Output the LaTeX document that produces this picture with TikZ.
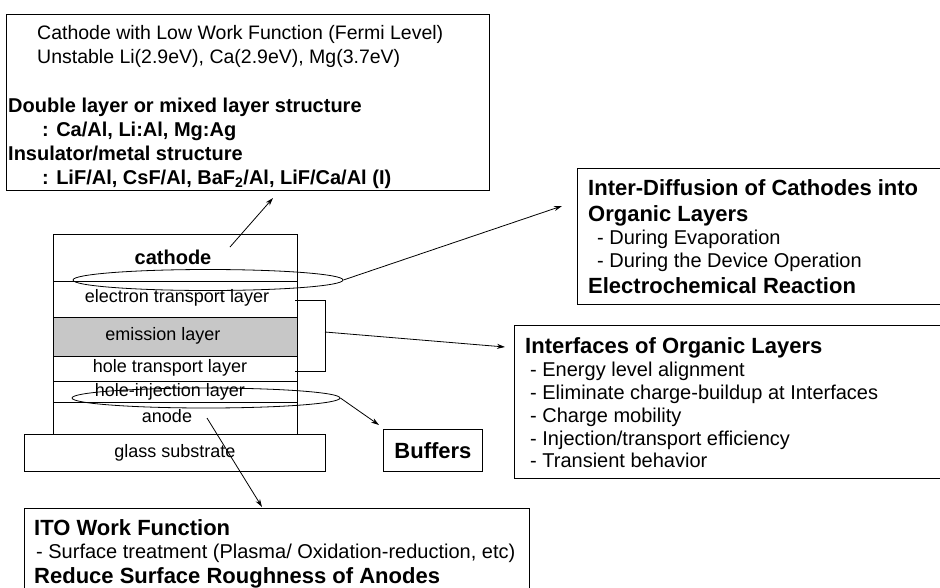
\documentclass[tikz,border=0pt]{standalone}
\usepackage{fontspec}
\setmainfont{Liberation Sans}
\usetikzlibrary{arrows.meta,shapes.geometric}
\tikzset{
  box/.style={draw, line width=0.9pt, inner sep=0pt},
  ring/.style={draw, ellipse, line width=0.8pt, inner sep=0pt},
  note/.style={anchor=base west, inner sep=0pt, font=\fontsize{19.5}{22}\selectfont},
  bnote/.style={note, font=\fontsize{20}{22}\selectfont\bfseries},
  head/.style={anchor=base west, inner sep=0pt, font=\fontsize{22}{24}\selectfont\bfseries},
  item/.style={anchor=base west, inner sep=0pt, font=\fontsize{20}{22}\selectfont},
  lbl/.style={inner sep=0pt, font=\fontsize{18}{20}\selectfont},
  pointer/.style={-{Stealth[length=8pt,width=5pt]}, line width=0.8pt},
}
\begin{document}
\begin{tikzpicture}[x=1pt,y=-1pt]
    \useasboundingbox (0,0) rectangle (940,587);
    \node[box, anchor=north west, minimum width=483, minimum height=176] (cathbox) at (6,14) {};
    \node[note] (c1) at (37,39) {Cathode with Low Work Function (Fermi Level)};
    \node[note] (c2) at (37,63) {Unstable Li(2.9eV), Ca(2.9eV), Mg(3.7eV)};
    \node[bnote] (c3) at (8,112) {Double layer or mixed layer structure};
    \node[bnote] (c4) at (42,136) {: Ca/Al, Li:Al, Mg:Ag};
    \node[bnote] (c5) at (8,160) {Insulator/metal structure};
    \node[bnote] (c6) at (42,184) {: LiF/Al, CsF/Al, BaF\textsubscript{2}/Al, LiF/Ca/Al (I)};

    \fill[black!22] (53,317) rectangle (297,356);
    \draw[line width=0.8pt] (53,234) rectangle (297,434);
    \draw[line width=0.8pt] (53,281) -- (297,281);
    \draw[line width=0.8pt] (53,317) -- (297,317);
    \draw[line width=0.8pt] (53,356) -- (297,356);
    \draw[line width=0.8pt] (53,381) -- (297,381);
    \draw[line width=0.8pt] (53,402) -- (297,402);
    \node[box, anchor=north west, minimum width=301, minimum height=37] (glass) at (24,434) {};
    \node[lbl, font=\fontsize{20}{22}\selectfont\bfseries] (cath) at (173,257) {cathode};
    \node[lbl] (etl) at (177,298) {electron transport layer};
    \node[lbl] (eml) at (163,336) {emission layer};
    \node[lbl] (htl) at (170,368) {hole transport layer};
    \node[lbl] (hil) at (170,392) {hole-injection layer};
    \node[lbl] (anode) at (167,416) {anode};
    \node[lbl] at (glass.center) {glass substrate};

    \node[ring, minimum width=270, minimum height=21] (topring) at (208,280) {};
    \node[ring, minimum width=268, minimum height=20] (botring) at (206,398) {};

    \node[box, anchor=north west, minimum width=370, minimum height=136] (difbox) at (577,168) {};
    \node[head] (d1) at (588,195) {Inter-Diffusion of Cathodes into};
    \node[head] (d2) at (588,221) {Organic Layers};
    \node[item] (d3) at (597,244) {- During Evaporation};
    \node[item] (d4) at (597,267) {- During the Device Operation};
    \node[head] (d5) at (588,293) {Electrochemical Reaction};

    \node[box, anchor=north west, minimum width=433, minimum height=153] (ifbox) at (514,325) {};
    \node[head] (i1) at (525,353) {Interfaces of Organic Layers};
    \node[item] (i2) at (530,376) {- Energy level alignment};
    \node[item] (i3) at (530,399) {- Eliminate charge-buildup at Interfaces};
    \node[item] (i4) at (530,422) {- Charge mobility};
    \node[item] (i5) at (530,445) {- Injection/transport efficiency};
    \node[item] (i6) at (530,467) {- Transient behavior};

    \node[box, anchor=north west, minimum width=99, minimum height=42, font=\fontsize{22}{24}\selectfont\bfseries] (buf) at (383,429) {Buffers};

    \node[box, anchor=north west, minimum width=505, minimum height=90] (itobox) at (24,508) {};
    \node[head] (o1) at (34,535) {ITO Work Function};
    \node[item] (o2) at (36,558) {- Surface treatment (Plasma/ Oxidation-reduction, etc)};
    \node[head] (o3) at (34,583) {Reduce Surface Roughness of Anodes};

    \coordinate (upfrom) at (230,247);
    \coordinate (upto) at (273,198);
    \coordinate (diftip) at (562,206);
    \coordinate (brk) at (325,332);
    \coordinate (iftip) at (505,347);
    \coordinate (buftip) at (379,425);
    \coordinate (itofrom) at (207,418);
    \coordinate (itotip) at (262,507);

    \draw[pointer] (upfrom) -- (upto);
    \draw[pointer] (topring.east) -- (diftip);
    \draw[line width=0.8pt] (295,300) -- (325,300) -- (325,371) -- (295,371);
    \draw[pointer] (brk) -- (iftip);
    \draw[pointer] (botring.east) -- (buftip);
    \draw[pointer] (itofrom) -- (itotip);
\end{tikzpicture}
\end{document}
